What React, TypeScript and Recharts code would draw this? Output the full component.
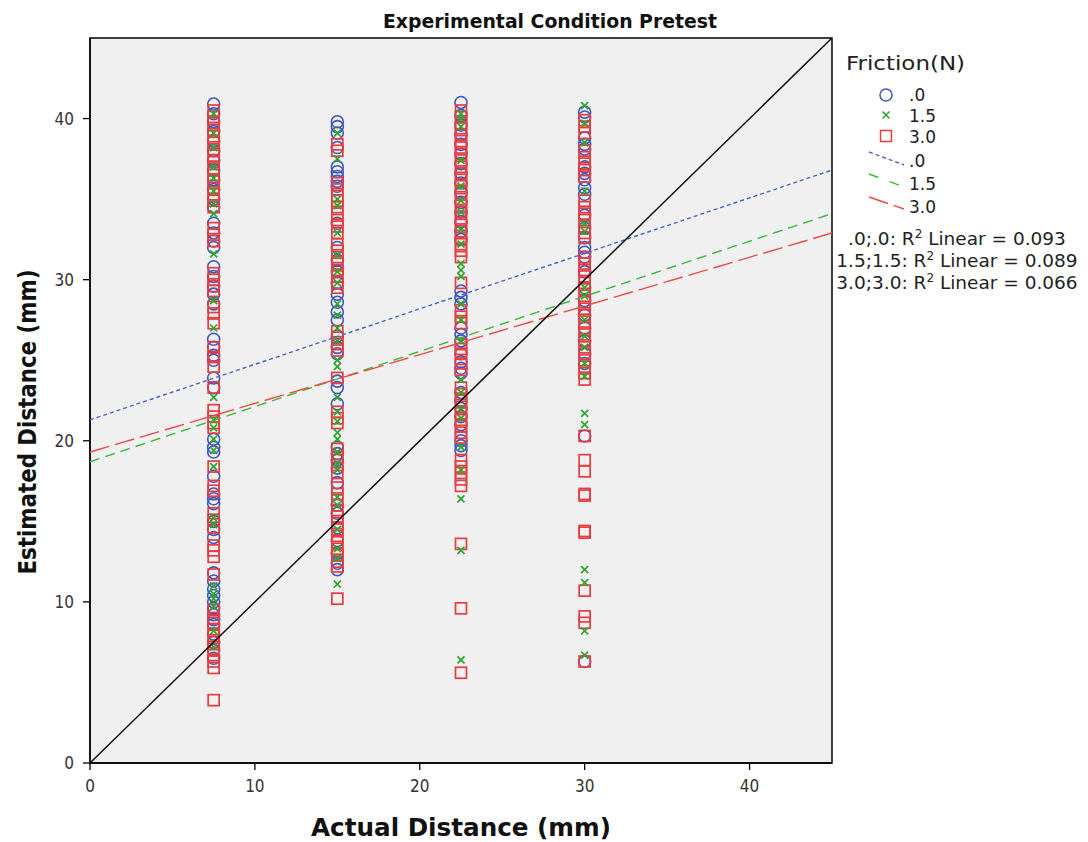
import React from 'react';
import { ScatterChart, Scatter, XAxis, YAxis, CartesianGrid, ReferenceArea } from 'recharts';

// ---- axes ----
const X_TICKS = [0, 10, 20, 30, 40];
const Y_TICKS = [0, 10, 20, 30, 40];
const AXIS_DOMAIN = [0, 45];

// ---- Friction .0 (blue circles): estimated distances per actual distance ----
const F0_AT_7_5 = [40.9, 40.3, 39.8, 39.2, 38.6, 38.0, 37.4, 36.8, 36.2, 35.6, 35.0, 34.5, 33.5, 32.9, 32.4, 32.0, 30.8, 30.2, 29.6, 29.1, 28.5, 26.3, 25.8, 25.3, 25.0, 23.9, 23.3, 20.1, 19.6, 19.3, 17.8, 16.7, 16.4, 16.1, 15.0, 14.5, 14.0, 11.8, 11.3, 10.8, 10.4, 10.0, 9.6, 9.2, 8.9, 8.6, 8.0, 7.5, 7.0, 6.5];
const F0_AT_15 = [39.8, 39.5, 39.1, 38.2, 37.0, 36.7, 36.4, 36.1, 35.8, 33.5, 32.0, 31.2, 30.5, 29.8, 29.1, 28.6, 28.0, 27.5, 26.5, 25.8, 25.4, 23.7, 23.3, 22.3, 19.6, 19.2, 18.8, 18.3, 17.4, 16.0, 15.5, 14.6, 13.8, 13.0, 12.4, 12.0];
const F0_AT_22_5 = [41.0, 40.2, 39.6, 39.0, 38.4, 37.8, 37.2, 36.6, 36.0, 35.4, 34.8, 34.2, 33.6, 33.0, 32.5, 29.3, 28.9, 28.5, 27.0, 26.6, 26.2, 25.4, 24.9, 24.5, 24.2, 23.0, 22.5, 22.0, 21.5, 21.0, 20.0, 19.7, 19.4];
const F0_AT_30 = [40.4, 40.1, 38.8, 38.4, 38.1, 37.0, 36.6, 36.2, 35.7, 35.3, 34.0, 33.2, 32.6, 32.0, 31.7, 31.4, 30.5, 29.5, 28.7, 27.8, 27.0, 26.2, 25.4, 24.8, 20.3, 6.3];

// ---- Friction 1.5 (green crosses) ----
const F15_AT_7_5 = [40.3, 39.1, 38.2, 37.0, 36.3, 35.5, 34.7, 34.1, 31.6, 28.7, 27.0, 22.7, 21.3, 20.8, 20.1, 19.4, 18.4, 15.2, 14.8, 11.0, 10.5, 10.2, 9.7, 8.2, 7.2];
const F15_AT_15 = [39.1, 37.5, 35.0, 34.6, 32.9, 31.5, 30.5, 29.8, 28.5, 27.8, 27.0, 26.2, 25.0, 24.6, 22.7, 21.8, 21.2, 20.5, 20.1, 19.3, 18.6, 18.2, 16.5, 16.0, 14.5, 13.3, 12.7, 11.1];
const F15_AT_22_5 = [40.3, 40.0, 39.5, 37.4, 35.8, 34.9, 34.2, 33.1, 32.2, 31.0, 30.6, 30.2, 28.5, 27.5, 26.2, 23.8, 23.0, 22.0, 21.4, 19.6, 18.2, 16.4, 13.2, 6.4];
const F15_AT_30 = [40.8, 39.7, 38.5, 35.5, 33.5, 33.0, 29.5, 29.0, 27.5, 26.5, 25.8, 24.8, 24.0, 21.7, 21.0, 12.0, 11.2, 8.2, 6.7];

// ---- Friction 3.0 (red squares) ----
const F30_AT_7_5 = [40.5, 40.1, 39.7, 39.3, 38.9, 38.5, 38.1, 37.7, 37.3, 36.9, 36.5, 36.1, 35.7, 35.3, 34.9, 34.5, 33.2, 32.8, 32.4, 30.4, 30.0, 29.6, 29.3, 28.3, 27.9, 27.3, 25.8, 25.2, 24.6, 23.3, 21.9, 21.5, 21.1, 20.8, 18.4, 17.2, 16.9, 15.5, 15.1, 14.6, 13.5, 13.2, 12.8, 11.7, 9.5, 9.0, 8.7, 8.3, 7.9, 7.5, 7.1, 6.7, 6.3, 5.9, 3.9];
const F30_AT_15 = [38.4, 38.0, 36.0, 35.6, 35.2, 34.9, 34.5, 34.1, 33.7, 33.3, 32.9, 32.2, 31.8, 31.4, 31.0, 30.6, 30.2, 29.8, 29.5, 26.8, 26.4, 26.0, 25.6, 23.9, 21.8, 21.4, 21.1, 19.5, 19.0, 18.5, 18.0, 17.1, 16.7, 16.3, 15.7, 15.3, 14.9, 14.5, 14.1, 13.7, 13.3, 12.9, 12.5, 12.2, 10.2];
const F30_AT_22_5 = [40.5, 40.1, 39.7, 39.4, 39.0, 38.6, 38.2, 37.8, 37.4, 37.0, 36.6, 36.2, 35.8, 35.4, 35.0, 34.6, 34.2, 33.8, 33.4, 33.0, 32.6, 32.2, 31.8, 31.4, 29.8, 28.1, 27.7, 27.3, 26.0, 25.7, 25.4, 24.8, 24.4, 23.3, 22.9, 22.5, 22.1, 21.7, 21.3, 20.9, 20.5, 20.2, 18.8, 18.4, 18.0, 17.6, 17.2, 13.6, 9.6, 5.6];
const F30_AT_30 = [39.9, 39.5, 39.1, 38.0, 37.6, 37.2, 36.8, 36.4, 34.9, 34.5, 34.1, 33.7, 33.3, 32.9, 32.6, 31.4, 31.0, 30.6, 30.2, 29.8, 29.4, 29.0, 28.6, 28.2, 27.8, 27.4, 27.0, 26.6, 26.2, 25.8, 25.4, 25.0, 24.6, 24.2, 23.8, 20.3, 18.8, 18.1, 16.7, 16.6, 14.4, 14.3, 10.7, 9.1, 8.7, 6.3];

// ---- fit lines (endpoints) ----
const FIT_X = [0, 45];
const FIT_F0_Y = [21.3, 36.8];
const FIT_F15_Y = [18.7, 34.1];
const FIT_F30_Y = [19.3, 32.9];
const IDENTITY_Y = [0, 45];

// ---- legend texts ----
const LEGEND_TITLE = 'Friction(N)';
const LEGEND_LABELS = ['.0', '1.5', '3.0'];
const R2_PREFIX = ['.0;.0: R', '1.5;1.5: R', '3.0;3.0: R'];
const R2_VALUES = ['0.093', '0.089', '0.066'];

const BLUE = '#4257bd';
const GREEN = '#2ea62e';
const RED = '#ea3b40';
const LINE_BLUE = '#4a63cc';
const LINE_GREEN = '#3cb83c';
const LINE_RED = '#f04848';

const FONT = '"DejaVu Sans", sans-serif';
const FONT_C = '"DejaVu Sans Condensed", "DejaVu Sans", sans-serif';

const pts = (x: number, ys: number[]) => ys.map((y) => ({ x, y }));
const line = (ys: number[]) => FIT_X.map((x, i) => ({ x, y: ys[i] }));

const f0Data = [...pts(7.5, F0_AT_7_5), ...pts(15, F0_AT_15), ...pts(22.5, F0_AT_22_5), ...pts(30, F0_AT_30)];
const f15Data = [...pts(7.5, F15_AT_7_5), ...pts(15, F15_AT_15), ...pts(22.5, F15_AT_22_5), ...pts(30, F15_AT_30)];
const f30Data = [...pts(7.5, F30_AT_7_5), ...pts(15, F30_AT_15), ...pts(22.5, F30_AT_22_5), ...pts(30, F30_AT_30)];

const CircleShape = (p: any) => <circle cx={p.cx} cy={p.cy} r={6} fill="none" stroke={BLUE} strokeWidth={1.6} />;
const SquareShape = (p: any) => <rect x={p.cx - 5.5} y={p.cy - 5.5} width={11} height={11} fill="none" stroke={RED} strokeWidth={1.7} />;
const CrossShape = (p: any) => (
  <g stroke={GREEN} strokeWidth={1.7}>
    <line x1={p.cx - 3.5} y1={p.cy - 3.5} x2={p.cx + 3.5} y2={p.cy + 3.5} />
    <line x1={p.cx - 3.5} y1={p.cy + 3.5} x2={p.cx + 3.5} y2={p.cy - 3.5} />
  </g>
);
const NoShape = () => <g />;

const tickStyle = { fontSize: 17, fill: '#333', fontFamily: FONT_C };

export default function App() {
  return (
    <div style={{ position: 'absolute', left: 0, top: 0, width: 1088, height: 842, background: '#fff' }}>
      <ScatterChart width={1088} height={842} margin={{ top: 38, right: 256, bottom: 29, left: 30 }}>
        <CartesianGrid horizontal={false} vertical={false} fill="#f0f0f0" />
        <XAxis
          type="number"
          dataKey="x"
          domain={AXIS_DOMAIN}
          ticks={X_TICKS}
          allowDataOverflow
          height={50}
          tickSize={7}
          tickMargin={10}
          tick={tickStyle}
          axisLine={{ stroke: '#000', strokeWidth: 1.3 }}
          tickLine={{ stroke: '#000', strokeWidth: 1.3 }}
        />
        <YAxis
          type="number"
          dataKey="y"
          domain={AXIS_DOMAIN}
          ticks={Y_TICKS}
          allowDataOverflow
          width={60}
          tickSize={7}
          tickMargin={9}
          tick={tickStyle}
          axisLine={{ stroke: '#000', strokeWidth: 1.3 }}
          tickLine={{ stroke: '#000', strokeWidth: 1.3 }}
        />
        <ReferenceArea x1={0} x2={45} y1={0} y2={45} fill="none" fillOpacity={0} stroke="#000" strokeWidth={1.5} />
        <Scatter data={f0Data} shape={CircleShape} isAnimationActive={false} />
        <Scatter data={f30Data} shape={SquareShape} isAnimationActive={false} />
        <Scatter data={f15Data} shape={CrossShape} isAnimationActive={false} />
        <Scatter data={line(FIT_F0_Y)} shape={NoShape} line={{ stroke: LINE_BLUE, strokeWidth: 1.4, strokeDasharray: '4 3' }} isAnimationActive={false} />
        <Scatter data={line(FIT_F15_Y)} shape={NoShape} line={{ stroke: LINE_GREEN, strokeWidth: 1.4, strokeDasharray: '10 6' }} isAnimationActive={false} />
        <Scatter data={line(FIT_F30_Y)} shape={NoShape} line={{ stroke: LINE_RED, strokeWidth: 1.4, strokeDasharray: '20 6' }} isAnimationActive={false} />
        <Scatter data={line(IDENTITY_Y)} shape={NoShape} line={{ stroke: '#111', strokeWidth: 1.5 }} isAnimationActive={false} />
      </ScatterChart>
      <svg width={1088} height={842} style={{ position: 'absolute', left: 0, top: 0, pointerEvents: 'none' }}>
        <text x={550} y={28} textAnchor="middle" fontFamily={FONT_C} fontWeight="bold" fontSize={19} fill="#111" textLength={334} lengthAdjust="spacingAndGlyphs">
          Experimental Condition Pretest
        </text>
        <text x={461} y={836} textAnchor="middle" fontFamily={FONT_C} fontWeight="bold" fontSize={24} fill="#111" textLength={300} lengthAdjust="spacingAndGlyphs">
          Actual Distance (mm)
        </text>
        <text transform="translate(36,422) rotate(-90)" x={0} y={0} textAnchor="middle" fontFamily={FONT_C} fontWeight="bold" fontSize={24} fill="#111" textLength={305} lengthAdjust="spacingAndGlyphs">
          Estimated Distance (mm)
        </text>
        {/* legend */}
        <text x={846} y={70} fontFamily={FONT} fontSize={20} fill="#222" textLength={119} lengthAdjust="spacingAndGlyphs">
          {LEGEND_TITLE}
        </text>
        <circle cx={886} cy={95} r={6} fill="none" stroke={BLUE} strokeWidth={1.5} />
        <g stroke={GREEN} strokeWidth={1.6}>
          <line x1={882.5} y1={111.5} x2={889.5} y2={118.5} />
          <line x1={882.5} y1={118.5} x2={889.5} y2={111.5} />
        </g>
        <rect x={880.5} y={130.5} width={11} height={11} fill="none" stroke={RED} strokeWidth={1.5} />
        <line x1={869} y1={152} x2={904} y2={165} stroke={LINE_BLUE} strokeWidth={1.4} strokeDasharray="4 3" />
        <line x1={869} y1={174} x2={904} y2={187} stroke={LINE_GREEN} strokeWidth={1.4} strokeDasharray="10 12" />
        <line x1={869} y1={197} x2={904} y2={209} stroke={LINE_RED} strokeWidth={1.4} strokeDasharray="20 6" />
        {LEGEND_LABELS.map((l, i) => (
          <text key={'a' + i} x={909} y={101 + i * 21} fontFamily={FONT} fontSize={17} fill="#222">{l}</text>
        ))}
        {LEGEND_LABELS.map((l, i) => (
          <text key={'b' + i} x={909} y={167 + i * 23} fontFamily={FONT} fontSize={17} fill="#222">{l}</text>
        ))}
        {R2_PREFIX.map((p, i) => (
          <text key={'r' + i} x={957} y={245 + i * 22} textAnchor="middle" fontFamily={FONT} fontSize={18.5} fill="#222">
            {p}
            <tspan dy={-7} fontSize={12}>2</tspan>
            <tspan dy={7}>{' Linear = ' + R2_VALUES[i]}</tspan>
          </text>
        ))}
      </svg>
    </div>
  );
}
